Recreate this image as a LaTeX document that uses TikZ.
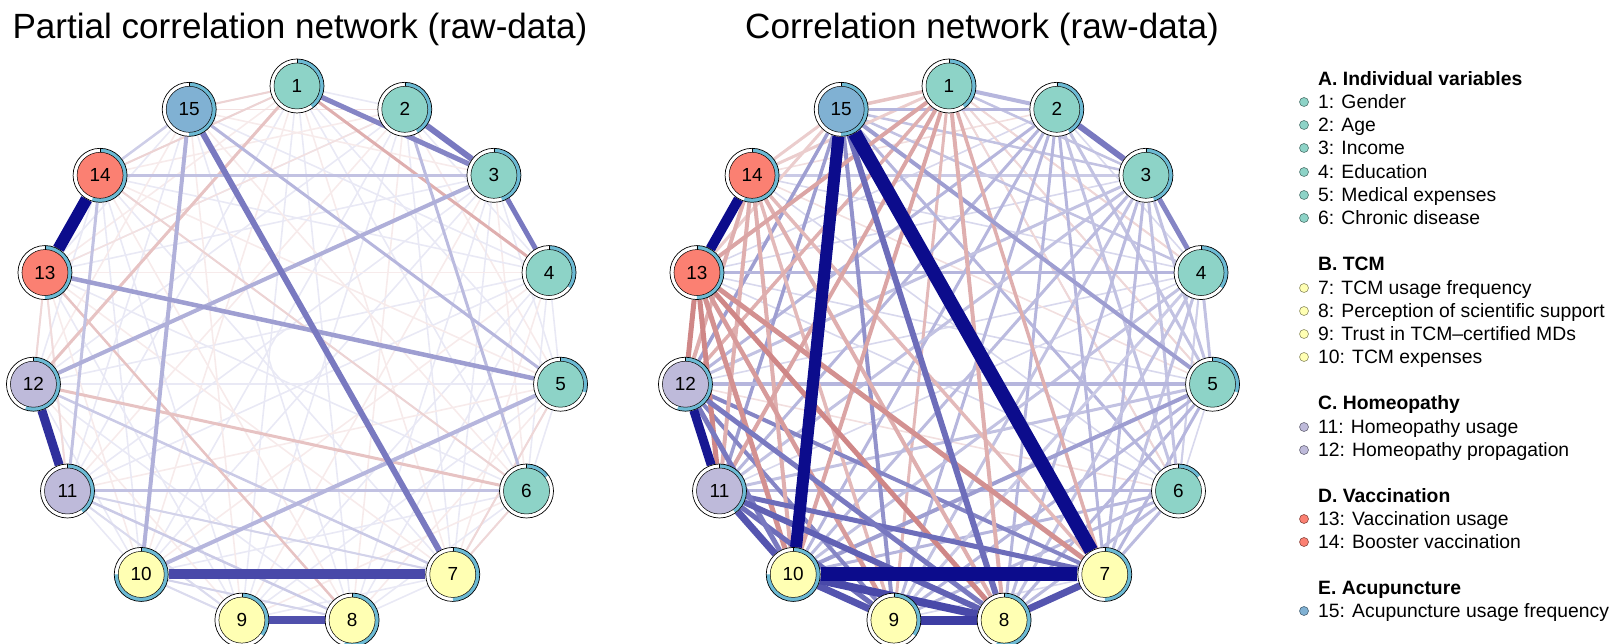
\documentclass[tikz,border=0pt]{standalone}
\usepackage{fontspec}
\setmainfont{Liberation Sans}
\usetikzlibrary{calc}
\pgfdeclarelayer{edges}
\pgfsetlayers{edges,main}
\definecolor{posc}{RGB}{12,12,140}
\definecolor{negc}{RGB}{175,55,55}
\definecolor{cA}{HTML}{8DD3C7}
\definecolor{cB}{HTML}{FFFFB3}
\definecolor{cC}{HTML}{BEBADA}
\definecolor{cD}{HTML}{FB8072}
\definecolor{cE}{HTML}{80B1D3}
\definecolor{piec}{HTML}{6CBAD4}
\tikzset{
  netnode/.style={circle, minimum size=54bp, inner sep=0pt, draw=black, line width=0.7bp,
    font=\fontsize{19}{19}\selectfont},
  ringfill/.style={fill=white},
  piefill/.style={fill=piec},
  innerdisk/.style={draw=black, line width=0.5bp},
  titletxt/.style={anchor=base, font=\fontsize{35.2}{40}\selectfont, inner sep=0pt},
  headtxt/.style={anchor=base west, font=\fontsize{19.4}{22}\selectfont\bfseries, inner sep=0pt},
  legtxt/.style={anchor=base west, font=\fontsize{19.4}{22}\selectfont, inner sep=0pt},
  legdot/.style={circle, minimum size=9bp, inner sep=0pt, line width=0.6bp},
  faint/.style={line width=1.6bp}
}
\newcommand\nodedeco[4]{% x, y, colour, fraction
  \begin{scope}[shift={(#1,#2)}]
    \path[ringfill] (0,0) circle[radius=27bp];
    \path[piefill] (90:27bp) arc[start angle=90, end angle={90-360*#4}, radius=27bp]
      -- ({90-360*#4}:23bp) arc[start angle={90-360*#4}, end angle=90, radius=23bp] -- cycle;
    \path[innerdisk, fill=#3] (0,0) circle[radius=23bp];
    \draw[black, line width=0.5bp] (90:23bp) -- (90:27bp);
  \end{scope}}
\begin{document}
\begin{tikzpicture}[x=1bp,y=1bp]
\useasboundingbox (0,0) rectangle (1612,644);
% nodes
\foreach \k/\f/\c in {1/0.40/cA,2/0.42/cA,3/0.45/cA,4/0.35/cA,5/0.30/cA,6/0.15/cA,7/0.50/cB,8/0.55/cB,9/0.35/cB,10/0.75/cB,11/0.40/cC,12/0.55/cC,13/0.50/cD,14/0.55/cD,15/0.50/cE}{
  \pgfmathsetmacro\ang{90-(\k-1)*24}
  \pgfmathsetmacro\lx{297+265*cos(\ang)}
  \pgfmathsetmacro\rx{949+265*cos(\ang)}
  \pgfmathsetmacro\py{288+270*sin(\ang)}
  \nodedeco{\lx}{\py}{\c}{\f}
  \node[netnode] (L\k) at (\lx,\py) {\k};
  \nodedeco{\rx}{\py}{\c}{\f}
  \node[netnode] (R\k) at (\rx,\py) {\k};
}
\begin{pgfonlayer}{edges}
% faint background edges
\foreach \a in {1,...,14}{
  \pgfmathtruncatemacro\s{\a+1}
  \foreach \b in {\s,...,15}{
    \pgfmathtruncatemacro\r{mod(\a+2*\b,3)}
    \ifnum\r=0
      \draw[faint, color=negc!10!white] (L\a) -- (L\b);
      \draw[faint, color=negc!16!white] (R\a) -- (R\b);
    \else
      \draw[faint, color=posc!9!white] (L\a) -- (L\b);
      \draw[faint, color=posc!16!white] (R\a) -- (R\b);
    \fi
  }
}
% partial correlation network
\foreach \a/\b/\w/\i/\s in {
  1/15/2/22/negc, 2/15/1.5/15/negc, 2/13/1.5/15/negc, 14/6/2/22/negc, 1/14/2/22/negc,
  13/12/2/20/negc, 13/11/2/18/negc, 5/7/2/20/negc, 6/7/2/20/negc,
  11/7/2/18/posc, 10/8/2/18/posc, 11/9/2/15/posc, 10/9/2/15/posc,
  12/7/2.5/22/posc, 11/8/2.5/22/posc, 15/14/2.5/20/posc, 13/8/2.5/30/negc,
  1/4/3/40/negc, 12/6/3/30/negc, 1/12/3/30/negc,
  14/3/3/25/posc, 11/6/3/25/posc, 2/6/3/28/posc, 15/5/3/30/posc, 14/11/3/25/posc,
  12/3/4/33/posc, 10/5/4/30/posc, 15/10/4/32/posc, 13/5/4.5/40/posc,
  1/3/5/50/posc, 3/4/5/55/posc, 15/7/6/55/posc, 2/3/6/55/posc,
  9/8/8/72/posc, 11/12/9/85/posc, 10/7/10/75/posc, 13/14/12/100/posc}{
  \draw[line width=\w bp, color=\s!\i!white] (L\a) -- (L\b);
}
% correlation network
\foreach \a/\b/\w/\i/\s in {
  1/6/2/20/negc, 1/5/2/20/negc, 1/4/2/20/negc, 4/6/2/20/posc,
  15/3/2.5/25/posc, 15/4/2.5/25/posc, 1/3/2.5/25/posc, 14/3/2.5/22/posc,
  1/14/3/25/negc, 15/14/3/25/negc, 15/13/3/25/negc, 1/9/3/35/negc,
  15/6/3/30/posc, 11/6/3/30/posc, 10/6/3/30/posc, 9/6/3/28/posc, 8/6/3/28/posc, 7/6/3/28/posc,
  9/5/3/30/posc, 8/5/3/30/posc, 7/5/3/30/posc, 11/5/3/25/posc,
  2/12/3/30/posc, 2/11/3/30/posc, 2/10/3/30/posc, 2/9/3/30/posc, 2/8/3/30/posc, 2/7/3/30/posc,
  2/6/3/25/posc, 2/5/3/25/posc,
  3/12/3/25/posc, 3/11/3/25/posc, 3/10/3/28/posc, 3/9/3/25/posc, 3/8/3/28/posc, 3/7/3/28/posc,
  3/6/3/25/posc, 3/5/3/25/posc,
  4/10/3/25/posc, 4/9/3/22/posc, 4/8/3/25/posc, 4/7/3/25/posc, 4/5/3/25/posc,
  15/11/3.5/40/posc, 15/12/3.5/40/posc, 13/4/3.5/30/posc, 12/5/3.5/30/posc, 15/2/3.5/30/posc,
  14/9/3.5/35/negc, 14/7/3.5/35/negc, 1/12/3.5/40/negc, 1/7/3.5/40/negc, 1/15/3.5/30/negc,
  1/2/4/30/posc, 15/5/4/40/posc, 10/5/4/40/posc, 15/9/4/45/posc, 12/9/4/50/posc, 12/7/4/50/posc,
  14/12/4/40/negc, 14/11/4/40/negc, 14/10/4/40/negc, 14/8/4/40/negc,
  1/13/4/45/negc, 1/11/4/45/negc, 1/10/4/45/negc, 1/8/4/40/negc,
  13/9/4.5/50/negc, 13/12/5/60/negc, 13/11/5/60/negc, 13/10/5/55/negc, 13/8/5/60/negc, 13/7/5/55/negc,
  3/4/5/50/posc, 11/9/5/60/posc, 11/7/5/60/posc, 12/10/5/55/posc, 12/8/5/55/posc,
  2/3/6/55/posc, 11/8/6/65/posc, 15/8/6/60/posc,
  10/9/7/70/posc, 11/10/7/70/posc, 7/8/7/70/posc, 10/8/8/75/posc, 9/8/9/80/posc,
  12/11/9/95/posc, 13/14/10/100/posc, 15/10/12/100/posc, 15/7/14/100/posc, 10/7/14/100/posc}{
  \draw[line width=\w bp, color=\s!\i!white] (R\a) -- (R\b);
}
\end{pgfonlayer}
% titles
\node[titletxt] (t1) at (300,605) {Partial correlation network (raw-data)};
\node[titletxt] (t2) at (982,605) {Correlation network (raw-data)};
% legend headings
\node[headtxt] (hA) at (1318,558) {A. Individual variables};
\node[headtxt] (hB) at (1318,373) {B. TCM};
\node[headtxt] (hC) at (1318,234) {C. Homeopathy};
\node[headtxt] (hD) at (1318,141) {D. Vaccination};
\node[headtxt] (hE) at (1318,49) {E. Acupuncture};
% legend items
\foreach \n/\y/\c/\t in {
  1/542/cA/{1: Gender}, 2/519/cA/{2: Age}, 3/496/cA/{3: Income}, 4/472/cA/{4: Education},
  5/449/cA/{5: Medical expenses}, 6/426/cA/{6: Chronic disease},
  7/356/cB/{7: TCM usage frequency}, 8/333/cB/{8: Perception of scientific support},
  9/310/cB/{9: Trust in TCM–certified MDs}, 10/287/cB/{10: TCM expenses},
  11/217/cC/{11: Homeopathy usage}, 12/194/cC/{12: Homeopathy propagation},
  13/125/cD/{13: Vaccination usage}, 14/102/cD/{14: Booster vaccination},
  15/33/cE/{15: Acupuncture usage frequency}}{
  \node[legdot, fill=\c, draw=\c!55!black] (d\n) at (1304,\y) {};
  \node[legtxt] (g\n) at (1318,\y-7) {\t};
}
\end{tikzpicture}
\end{document}
